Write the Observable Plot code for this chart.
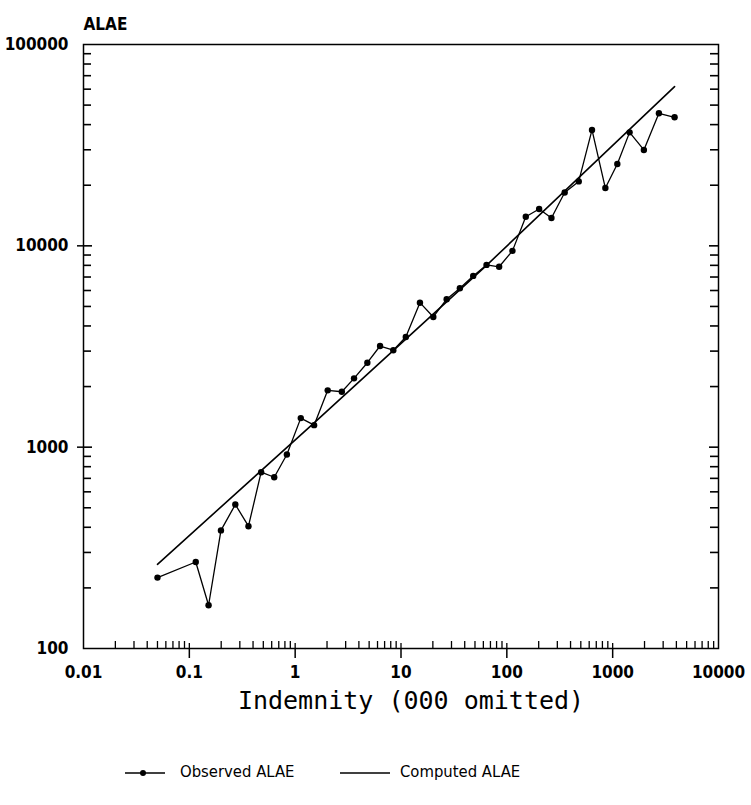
<!DOCTYPE html>
<html>
<head>
<meta charset="utf-8">
<script src="https://cdn.jsdelivr.net/npm/d3@7"></script>
<script src="https://cdn.jsdelivr.net/npm/@observablehq/plot@0.6"></script>
<style>
  body { margin: 0; background: #fff; }
  #chart { position: relative; width: 751px; }
  #legend { position: relative; width: 751px; height: 85px; font-family: "DejaVu Sans Condensed", sans-serif; font-size: 16.5px; color: #000; }
  #legend svg { position: absolute; left: 0; top: 0; }
  #legend span { position: absolute; }
</style>
</head>
<body>
<div id="chart"></div>
<div id="legend">
  <svg width="751" height="85">
    <line x1="125" y1="53" x2="165" y2="53" stroke="#000" stroke-width="1.5"/>
    <circle cx="143" cy="53" r="3" fill="#000"/>
    <line x1="340" y1="53" x2="390" y2="53" stroke="#000" stroke-width="1.5"/>
  </svg>
  <span style="left:180px; top:42px;">Observed ALAE</span>
  <span style="left:400px; top:42px;">Computed ALAE</span>
</div>
<script>
// Observed data (indemnity in thousands, ALAE)
const indemnity = [0.05, 0.115, 0.152, 0.199, 0.272, 0.362, 0.477, 0.634, 0.835, 1.13,
  1.51, 2.03, 2.76, 3.6, 4.81, 6.34, 8.46, 11.1, 15.1, 20.2,
  27.0, 36.0, 48.1, 64.3, 84.6, 113, 151, 202, 264, 352,
  478, 638, 853, 1107, 1445, 1972, 2735, 3846];
const observedALAE = [225, 269, 164, 386, 519, 405, 751, 709, 920, 1394,
  1286, 1915, 1885, 2197, 2627, 3180, 3030, 3525, 5220, 4433,
  5430, 6160, 7090, 8040, 7870, 9440, 13940, 15230, 13740, 18400,
  20890, 37640, 19360, 25500, 36610, 29940, 45520, 43500];

// Computed ALAE line
const computedIndemnity = [0.05, 1.51, 64.3, 3846];
const computedALAE = [262, 1320, 8000, 61800];

// Axis ticks
const xTickValues = [0.01, 0.1, 1, 10, 100, 1000, 10000];
const xTickLabels = ["0.01", "0.1", "1", "10", "100", "1000", "10000"];
const xMajorTicks = [0.1, 1, 10, 100, 1000];
const yTickValues = [100, 1000, 10000, 100000];
const yTickLabels = ["100", "1000", "10000", "100000"];
const yMajorTicks = [1000, 10000];

const xMinor = [];
for (let e = -2; e < 4; e++) for (let m = 2; m <= 9; m++) xMinor.push(m * Math.pow(10, e));
const yMinor = [];
for (let e = 2; e < 5; e++) for (let m = 2; m <= 9; m++) yMinor.push(m * Math.pow(10, e));

const observed = indemnity.map((x, i) => ({x, y: observedALAE[i]}));
const computed = computedIndemnity.map((x, i) => ({x, y: computedALAE[i]}));

const W = 751, H = 720;
const mL = 83, mR = 33, mT = 44, mB = 72;
const innerW = W - mL - mR, innerH = H - mT - mB;
const tickFont = "DejaVu Sans Condensed, sans-serif";

const chart = Plot.plot({
  width: W, height: H,
  marginLeft: mL, marginRight: mR, marginTop: mT, marginBottom: mB,
  style: {background: "#fff", color: "#000", fontFamily: tickFont, overflow: "visible"},
  x: {type: "log", domain: [0.01, 10000]},
  y: {type: "log", domain: [100, 100000]},
  marks: [
    Plot.frame({stroke: "#000", strokeWidth: 1.5}),
    // minor inward ticks
    Plot.tickX(xMinor, {x: d => d, insetTop: innerH - 7, stroke: "#000", strokeWidth: 1.3}),
    Plot.tickY(yMinor, {y: d => d, insetRight: innerW - 8, stroke: "#000", strokeWidth: 1.6}),
    Plot.tickY(yMinor, {y: d => d, insetLeft: innerW - 8, stroke: "#000", strokeWidth: 1.6}),
    Plot.tickY(yMajorTicks, {y: d => d, insetRight: innerW - 9, stroke: "#000", strokeWidth: 1.6}),
    Plot.tickY(yMajorTicks, {y: d => d, insetLeft: innerW - 9, stroke: "#000", strokeWidth: 1.6}),
    Plot.tickX(xMajorTicks, {x: d => d, insetTop: innerH - 5, stroke: "#000", strokeWidth: 1.3}),
    // outward major ticks
    Plot.axisX({ticks: xMajorTicks, tickSize: 10, tickFormat: null, text: null, strokeWidth: 1.5, label: null}),
    Plot.axisY({ticks: yMajorTicks, tickSize: 6, text: null, strokeWidth: 1.5, label: null}),
    // tick labels
    Plot.axisX({ticks: xTickValues, tickSize: 0, tickPadding: 17, tickFormat: d => xTickLabels[xTickValues.indexOf(d)],
      fontSize: 17, fontWeight: "bold", label: null}),
    Plot.axisY({ticks: yTickValues, tickSize: 0, tickPadding: 15, tickFormat: d => yTickLabels[yTickValues.indexOf(d)],
      fontSize: 17, fontWeight: "bold", label: null}),
    // data
    Plot.line(computed, {x: "x", y: "y", stroke: "#000", strokeWidth: 1.6}),
    Plot.line(observed, {x: "x", y: "y", stroke: "#000", strokeWidth: 1.3}),
    Plot.dot(observed, {x: "x", y: "y", r: 3.2, fill: "#000", stroke: "none"}),
    // titles
    Plot.text(["ALAE"], {frameAnchor: "top-left", dy: -27, textAnchor: "start", fontSize: 17, fontWeight: "bold"}),
    Plot.text(["Indemnity (000 omitted)"], {frameAnchor: "bottom", dy: 60, dx: 10, fontSize: 25,
      fontFamily: "DejaVu Sans Mono, monospace"})
  ]
});
document.getElementById("chart").appendChild(chart);
</script>
</body>
</html>
